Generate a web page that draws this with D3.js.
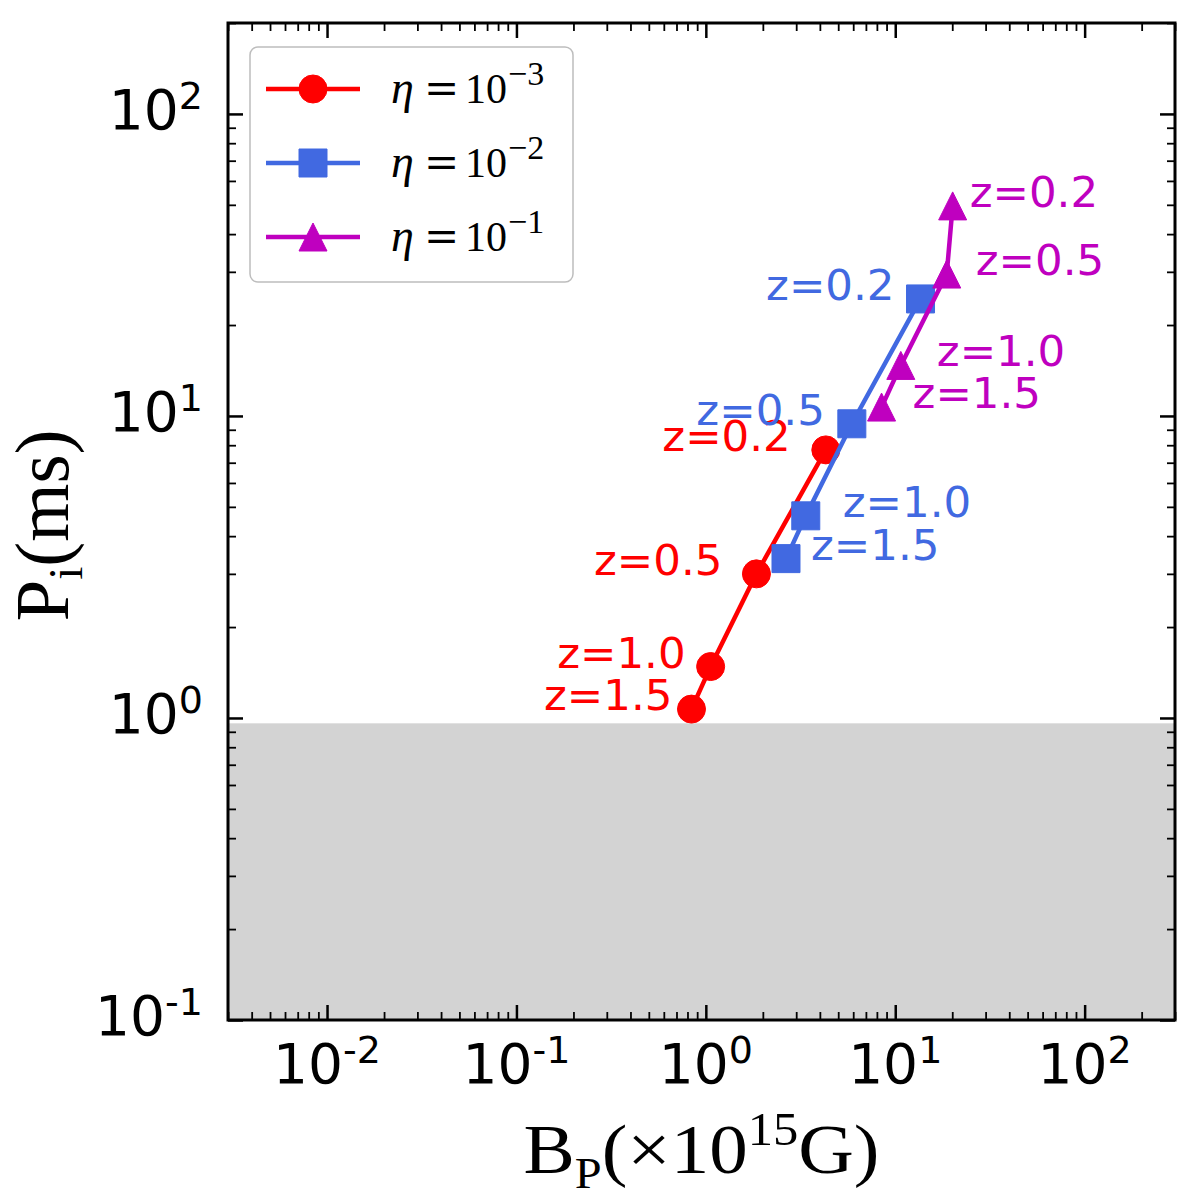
<!DOCTYPE html>
<html><head><meta charset="utf-8">
<script src="https://cdn.jsdelivr.net/npm/d3@7"></script>
<style>body{margin:0;background:#fff}</style>
</head><body>
<svg id="chart" width="1200" height="1200" xmlns="http://www.w3.org/2000/svg"></svg>
<script>
// ---------------- data ----------------
const redshiftLabels = ["z=0.2", "z=0.5", "z=1.0", "z=1.5"];
const etaExponents = ["\u22123", "\u22122", "\u22121"];
const bpEta3 = [4.30, 1.85, 1.06, 0.84];
const piEta3 = [7.72, 3.00, 1.48, 1.07];
const bpEta2 = [13.6, 5.90, 3.37, 2.65];
const piEta2 = [24.4, 9.42, 4.67, 3.37];
const bpEta1 = [20.1, 18.7, 10.7, 8.47];
const piEta1 = [49.6, 29.5, 14.7, 10.7];
const xMajorTicks = [0.01, 0.1, 1, 10, 100];
const xTickExponents = ["-2", "-1", "0", "1", "2"];
const yMajorTicks = [0.1, 1, 10, 100];
const yTickExponents = ["-1", "0", "1", "2"];
const breakupPeriod = 0.96;
const xDomain = [0.003, 300];
const yDomain = [0.1, 200];

// ---------------- styles ----------------
const L = 228, R = 1175, T = 23, B = 1020;
const series = [
  {bp: bpEta3, pi: piEta3, color: "#ff0000", marker: "circle", exp: etaExponents[0],
   lab: [{a: "end", dx: -35}, {a: "end", dx: -34}, {a: "end", dx: -25}, {a: "end", dx: -19}]},
  {bp: bpEta2, pi: piEta2, color: "#4169e1", marker: "square", exp: etaExponents[1],
   lab: [{a: "end", dx: -26}, {a: "end", dx: -27}, {a: "start", dx: 37}, {a: "start", dx: 25}]},
  {bp: bpEta1, pi: piEta1, color: "#bf00bf", marker: "triangle", exp: etaExponents[2],
   lab: [{a: "start", dx: 17}, {a: "start", dx: 29}, {a: "start", dx: 36}, {a: "start", dx: 31}]}
];
const MS = 28;

const svg = d3.select("#chart");
const x = d3.scaleLog().domain(xDomain).range([L, R]);
const y = d3.scaleLog().domain(yDomain).range([B, T]);

// grey forbidden region
svg.append("rect")
  .attr("x", L).attr("width", R - L)
  .attr("y", y(breakupPeriod)).attr("height", y(yDomain[0]) - y(breakupPeriod))
  .attr("fill", "#d3d3d3");

function markerPath(kind) {
  const h = MS / 2;
  if (kind === "circle") return d3.symbol(d3.symbolCircle, Math.PI * h * h)();
  if (kind === "square") return d3.symbol(d3.symbolSquare, MS * MS)();
  return `M0,${-h}L${h},${h}L${-h},${h}Z`;
}

const line = d3.line().x(d => x(d[0])).y(d => y(d[1]));
series.forEach(s => {
  const pts = s.bp.map((v, i) => [v, s.pi[i]]);
  svg.append("path").datum(pts).attr("d", line)
    .attr("fill", "none").attr("stroke", s.color).attr("stroke-width", 4.5)
    .attr("stroke-linejoin", "round");
  svg.append("g").selectAll("path").data(pts).join("path")
    .attr("transform", d => `translate(${x(d[0])},${y(d[1])})`)
    .attr("d", markerPath(s.marker))
    .attr("fill", s.color).attr("stroke", s.color).attr("stroke-width", 1);
});
series.forEach(s => {
  svg.append("g").selectAll("text").data(s.bp).join("text")
    .attr("x", (d, i) => x(d) + s.lab[i].dx)
    .attr("y", (d, i) => y(s.pi[i]) + 1)
    .attr("text-anchor", (d, i) => s.lab[i].a)
    .attr("font-family", "DejaVu Sans").attr("font-size", 43.5)
    .attr("fill", s.color)
    .text((d, i) => redshiftLabels[i]);
});

// ---------------- axes ----------------
const isMajor = v => Math.abs(Math.log10(v) - Math.round(Math.log10(v))) < 1e-9;
const xMinor = x.ticks().filter(v => !isMajor(v));
const yMinor = y.ticks().filter(v => !isMajor(v));

function addAxis(gen, tr, w) {
  const g = svg.append("g").attr("transform", tr).call(gen);
  g.select(".domain").remove();
  g.selectAll(".tick text").remove();
  g.selectAll(".tick line").attr("stroke", "#000").attr("stroke-width", w);
  return g;
}
addAxis(d3.axisBottom(x).tickValues(xMajorTicks).tickSize(-15), `translate(0,${B})`, 2.5);
addAxis(d3.axisBottom(x).tickValues(xMinor).tickSize(-8), `translate(0,${B})`, 1.8);
addAxis(d3.axisTop(x).tickValues(xMajorTicks).tickSize(-15), `translate(0,${T})`, 2.5);
addAxis(d3.axisTop(x).tickValues(xMinor).tickSize(-8), `translate(0,${T})`, 1.8);
addAxis(d3.axisLeft(y).tickValues(yMajorTicks).tickSize(-15), `translate(${L},0)`, 2.5);
addAxis(d3.axisLeft(y).tickValues(yMinor).tickSize(-8), `translate(${L},0)`, 1.8);
addAxis(d3.axisRight(y).tickValues(yMajorTicks).tickSize(-15), `translate(${R},0)`, 2.5);
addAxis(d3.axisRight(y).tickValues(yMinor).tickSize(-8), `translate(${R},0)`, 1.8);

svg.append("rect").attr("x", L).attr("y", T).attr("width", R - L).attr("height", B - T)
  .attr("fill", "none").attr("stroke", "#000").attr("stroke-width", 3);

// tick labels
function powLabel(sel, exp) {
  sel.attr("font-family", "DejaVu Sans").attr("font-size", 55).attr("fill", "#000");
  sel.append("tspan").text("10");
  sel.append("tspan").attr("font-size", 38).attr("dy", -20).text(exp);
}
xMajorTicks.forEach((v, i) => {
  svg.append("text").attr("x", x(v)).attr("y", B + 63).attr("text-anchor", "middle")
    .call(powLabel, xTickExponents[i]);
});
yMajorTicks.forEach((v, i) => {
  svg.append("text").attr("x", 203).attr("y", y(v) + 15).attr("text-anchor", "end")
    .call(powLabel, yTickExponents[i]);
});

// axis labels
const serif = "Liberation Serif";
const xl = svg.append("text").attr("x", (L + R) / 2).attr("y", 1173).attr("text-anchor", "middle")
  .attr("font-family", serif).attr("font-size", 70).attr("fill", "#000")
  .attr("textLength", 356).attr("lengthAdjust", "spacingAndGlyphs");
xl.append("tspan").text("B");
xl.append("tspan").attr("font-size", 44).attr("dy", 15).text("P");
xl.append("tspan").attr("dy", -15).text("(\u00d710");
xl.append("tspan").attr("font-size", 46).attr("dy", -28).text("15");
xl.append("tspan").attr("dy", 28).text("G)");

const yl = svg.append("text").attr("transform", `translate(68,${(T + B) / 2 + 4}) rotate(-90)`)
  .attr("text-anchor", "middle").attr("font-family", serif).attr("font-size", 76).attr("fill", "#000")
  .attr("textLength", 192).attr("lengthAdjust", "spacingAndGlyphs");
yl.append("tspan").text("P");
yl.append("tspan").attr("font-size", 48).attr("dy", 14).text("i");
yl.append("tspan").attr("dy", -14).text("(ms)");

// ---------------- legend ----------------
const lg = svg.append("g");
lg.append("rect").attr("x", 250).attr("y", 47).attr("width", 323).attr("height", 235)
  .attr("rx", 8).attr("fill", "#fff").attr("stroke", "#bdbdbd").attr("stroke-width", 1.5);
series.forEach((s, i) => {
  const cy = 89 + i * 74;
  lg.append("line").attr("x1", 266).attr("x2", 360).attr("y1", cy).attr("y2", cy)
    .attr("stroke", s.color).attr("stroke-width", 4.5);
  lg.append("path").attr("transform", `translate(313,${cy})`).attr("d", markerPath(s.marker))
    .attr("fill", s.color).attr("stroke", s.color).attr("stroke-width", 1);
  const t = lg.append("text").attr("y", cy + 14).attr("font-family", serif)
    .attr("font-size", 42).attr("fill", "#000");
  t.append("tspan").attr("x", 391).attr("font-size", 46).attr("font-style", "italic").text("\u03b7");
  t.append("tspan").attr("x", 424).attr("font-family", "DejaVu Serif").attr("font-size", 42).text("=");
  t.append("tspan").attr("x", 465).text("10");
  t.append("tspan").attr("x", 508).attr("font-size", 34).attr("dy", -18).text(s.exp);
});
</script>
</body></html>
